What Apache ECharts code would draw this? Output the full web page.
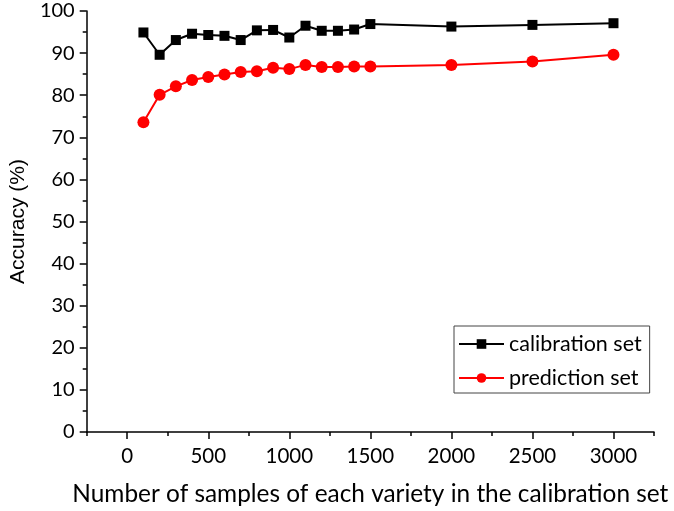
<!DOCTYPE html>
<html>
<head>
<meta charset="utf-8">
<script src="https://cdn.jsdelivr.net/npm/echarts@6/dist/echarts.min.js"></script>
<style>html,body{margin:0;padding:0;background:#fff}#c{width:674px;height:511px}</style>
</head>
<body>
<div id="c"></div>
<script>
const xValues = [100,200,300,400,500,600,700,800,900,1000,1100,1200,1300,1400,1500,2000,2500,3000];
const calibration = [94.9,89.6,93.1,94.6,94.3,94.1,93.1,95.4,95.5,93.7,96.5,95.3,95.3,95.6,96.9,96.3,96.7,97.1];
const prediction = [73.6,80.1,82.1,83.6,84.3,84.9,85.5,85.7,86.5,86.2,87.2,86.7,86.7,86.8,86.8,87.2,88.0,89.6];
const xMajorTicks = [0,500,1000,1500,2000,2500,3000];
const xMinorTicks = [-250,250,750,1250,1750,2250,2750,3250];
const seriesNames = ['calibration set','prediction set'];

const FONT = 'Lato';
const chart = echarts.init(document.getElementById('c'));
chart.setOption({
  animation: false,
  backgroundColor: '#fff',
  grid: {left: 85, right: 20, top: 11, bottom: 78, containLabel: false},
  legend: {
    orient: 'vertical', left: 454, top: 326,
    borderColor: '#444', borderWidth: 1, padding: [7, 8, 4, 4],
    itemWidth: 45, itemHeight: 12, itemGap: 12,
    textStyle: {fontFamily: FONT, fontSize: 21.5, color: '#000'},
    data: seriesNames
  },
  xAxis: [{
    type: 'value', min: -250, max: 3250,
    splitLine: {show: false},
    axisLine: {onZero: false, lineStyle: {color: '#000', width: 1.5}},
    axisTick: {show: true, length: 7, lineStyle: {color: '#000', width: 1.5}, customValues: xMajorTicks},
    axisLabel: {customValues: xMajorTicks, margin: 14, fontFamily: FONT, fontSize: 20.5, color: '#000',
      formatter: v => String(v)},
    name: 'Number of samples of each variety in the calibration set',
    nameLocation: 'middle', nameGap: 50,
    nameTextStyle: {fontFamily: FONT, fontSize: 24.4, color: '#000'}
  }, {
    type: 'value', min: -250, max: 3250, position: 'bottom',
    splitLine: {show: false},
    axisLine: {show: false, onZero: false},
    axisTick: {show: true, length: 4, lineStyle: {color: '#000', width: 1.5}, customValues: xMinorTicks},
    axisLabel: {show: false}
  }],
  yAxis: {
    type: 'value', min: 0, max: 100, interval: 10,
    splitLine: {show: false},
    axisLine: {show: true, onZero: false, lineStyle: {color: '#000', width: 1.5}},
    axisTick: {show: true, length: 7, lineStyle: {color: '#000', width: 1.5}},
    minorTick: {show: true, splitNumber: 2, length: 4, lineStyle: {color: '#000', width: 1.5}},
    axisLabel: {margin: 12, fontFamily: FONT, fontSize: 20, color: '#000'},
    name: 'Accuracy (%)', nameLocation: 'middle', nameGap: 50,
    nameTextStyle: {fontFamily: 'Liberation Sans', fontSize: 21, color: '#000'}
  },
  series: [{
    name: seriesNames[0], type: 'line',
    data: xValues.map((x, i) => [x, calibration[i]]),
    symbol: 'rect', symbolSize: 10,
    lineStyle: {color: '#000', width: 2},
    itemStyle: {color: '#000'}
  }, {
    name: seriesNames[1], type: 'line',
    data: xValues.map((x, i) => [x, prediction[i]]),
    symbol: 'circle', symbolSize: 12,
    lineStyle: {color: '#ff0000', width: 2},
    itemStyle: {color: '#ff0000'}
  }]
});
</script>
</body>
</html>
